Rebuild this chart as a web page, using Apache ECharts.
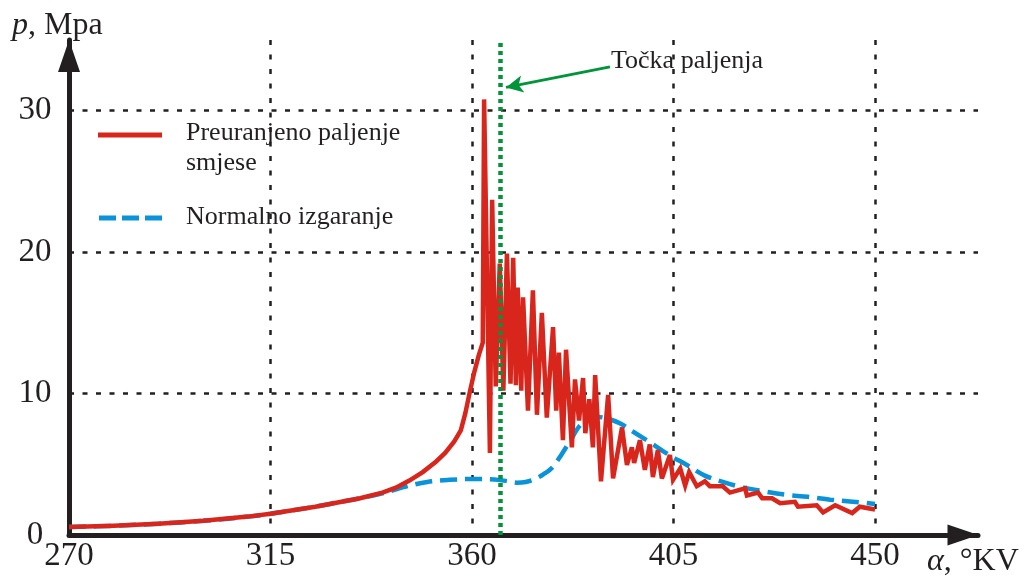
<!DOCTYPE html>
<html>
<head>
<meta charset="utf-8">
<script src="https://cdn.jsdelivr.net/npm/echarts@6/dist/echarts.min.js"></script>
<style>
html,body{margin:0;padding:0;background:#fff;}
#chart{width:1030px;height:581px;}
</style>
</head>
<body>
<div id="chart"></div>
<script>
// ---- data ----
const xTicks = [270, 315, 360, 405, 450];
const yTicks = [0, 10, 20, 30];
const xRange = [270, 473];
const yRange = [0, 35];

const normalX = [270, 280, 290, 300, 310, 315, 320, 325, 330, 335, 340, 345, 350, 355, 360, 365, 368, 370, 372, 374, 376, 378, 380, 382, 384, 386, 388, 390, 393, 396, 400, 404, 408, 412, 416, 420, 425, 430, 435, 440, 445, 450];
const normalY = [0.57, 0.65, 0.8, 1.0, 1.3, 1.5, 1.75, 2.0, 2.3, 2.6, 2.95, 3.4, 3.75, 3.9, 3.96, 3.93, 3.8, 3.7, 3.75, 3.95, 4.3, 4.8, 5.7, 6.7, 7.7, 8.2, 8.35, 8.25, 7.9, 7.3, 6.5, 5.66, 4.95, 4.2, 3.75, 3.4, 3.1, 2.85, 2.7, 2.5, 2.35, 2.2];

const earlyX = [270, 280, 290, 300, 310, 315, 320, 325, 330, 335, 340, 343, 346, 349, 352, 354, 356, 357.5, 358.5, 359.5, 360.5, 361.5, 362.4,
  362.7, 364.0, 364.5, 365.3, 366.2, 367.0, 367.8, 368.6, 369.2, 369.8, 370.2, 371.0, 371.4, 372.5, 373.6, 374.5, 375.6, 376.7, 378.1, 378.8, 379.4, 380.3, 381.0, 382.3, 383.0, 383.9, 384.8, 385.3, 386.2, 387.0, 387.5, 388.8, 390.4, 391.5, 393.5, 394.6, 395.7, 396.2, 397.5, 398.6, 399.7, 400.4, 401.5, 402.4, 404.2, 404.9, 406.5, 407.6, 408.5, 410.2, 412.0, 413.1, 416.0, 417.6, 421.0, 421.4, 423.9, 424.8, 427.0, 428.8, 432.1, 432.8, 437.0, 438.4, 441.1, 444.9, 446.6, 450.0];
const earlyY = [0.57, 0.65, 0.8, 1.0, 1.3, 1.5, 1.75, 2.0, 2.3, 2.6, 3.0, 3.35, 3.85, 4.45, 5.2, 5.8, 6.6, 7.4, 8.6, 10.1, 11.5, 12.7, 13.6,
  30.8, 5.8, 23.7, 10.5, 19.2, 10.2, 19.9, 10.7, 19.6, 10.6, 17.5, 10.2, 16.8, 8.8, 17.3, 8.5, 15.7, 8.3, 14.7, 8.8, 12.9, 6.7, 13.1, 6.2, 11.0, 8.1, 11.1, 7.2, 9.6, 6.2, 11.3, 3.8, 9.9, 4.0, 7.6, 4.95, 6.2, 5.1, 6.7, 4.6, 6.4, 4.1, 6.0, 4.0, 5.66, 3.9, 4.7, 3.5, 4.45, 3.45, 3.8, 3.45, 3.45, 3.0, 3.3, 2.8, 3.0, 2.6, 2.6, 2.25, 2.35, 2.0, 2.1, 1.6, 2.1, 1.55, 2.0, 1.8];

const ignitionAngle = 366.2;
const arrowFrom = [390.8, 33.1];
const arrowTo = [367.6, 31.65];

const seriesNames = ['Preuranjeno paljenje\nsmjese', 'Normalno izgaranje'];
const annotationText = 'Točka paljenja';

// ---- styles ----
const RED = '#d9261c';
const BLUE = '#0a93d8';
const GREEN = '#00953a';
const INK = '#231f20';
const FONT = '"Liberation Serif", "Times New Roman", serif';

const chart = echarts.init(document.getElementById('chart'), null, {renderer: 'canvas'});

const zip = (xs, ys) => xs.map((x, i) => [x, ys[i]]);

const option = {
  backgroundColor: '#ffffff',
  animation: false,
  grid: {left: 69, right: 52, top: 40, bottom: 46, containLabel: false},
  xAxis: {
    type: 'value',
    min: xRange[0], max: xRange[1], interval: 45,
    axisLine: {show: true, lineStyle: {color: INK, width: 5}, symbol: ['none', 'triangle'], symbolSize: [21, 31], symbolOffset: [0, -15]},
    axisTick: {show: false},
    axisLabel: {
      margin: 5, fontFamily: FONT, fontSize: 33, color: INK,
      formatter: v => xTicks.includes(v) ? String(v) : ''
    },
    splitLine: {show: true, showMinLine: false, showMaxLine: false, lineStyle: {color: INK, width: 2.5, type: [5, 9.5]}}
  },
  yAxis: {
    type: 'value',
    min: yRange[0], max: yRange[1], interval: 10,
    axisLine: {show: true, lineStyle: {color: INK, width: 5}, symbol: ['none', 'triangle'], symbolSize: [22, 32], symbolOffset: [0, -16]},
    axisTick: {show: false},
    axisLabel: {
      margin: 34, align: 'center', fontFamily: FONT, fontSize: 33, color: INK,
      formatter: v => yTicks.includes(v) ? String(v) : ''
    },
    splitLine: {show: true, showMinLine: false, showMaxLine: false, lineStyle: {color: INK, width: 2.5, type: [5, 8.5]}}
  },
  series: [
    {
      name: seriesNames[1],
      type: 'line',
      data: zip(normalX, normalY),
      smooth: 0.35,
      showSymbol: false,
      z: 2,
      lineStyle: {color: BLUE, width: 4.5, type: [17, 8]}
    },
    {
      name: seriesNames[0],
      type: 'line',
      data: zip(earlyX, earlyY),
      smooth: false,
      showSymbol: false,
      z: 3,
      lineStyle: {color: RED, width: 4.5, join: 'miter', miterLimit: 4},
      markLine: {
        silent: true,
        z: 6,
        animation: false,
        label: {show: false},
        data: [
          [{xAxis: ignitionAngle, yAxis: yRange[0], symbol: 'none', lineStyle: {color: GREEN, width: 4.5, type: [4, 4]}},
           {xAxis: ignitionAngle, yAxis: yRange[1], symbol: 'none'}],
          [{coord: arrowFrom, symbol: 'none', lineStyle: {color: GREEN, width: 3, type: 'solid'}},
           {coord: arrowTo, symbol: 'arrow', symbolSize: [13, 17]}]
        ]
      }
    }
  ],
  graphic: [
    {type: 'line', shape: {x1: 98, y1: 135, x2: 162, y2: 135}, style: {stroke: RED, lineWidth: 5}},
    {type: 'text', left: 186, top: 118, style: {text: seriesNames[0], font: '26px ' + FONT, fill: INK, lineHeight: 30}},
    {type: 'line', shape: {x1: 99, y1: 218, x2: 162, y2: 218}, style: {stroke: BLUE, lineWidth: 5, lineDash: [17, 6]}},
    {type: 'text', left: 186, top: 204, style: {text: seriesNames[1], font: '26px ' + FONT, fill: INK}},
    {type: 'text', left: 611, top: 48, style: {text: annotationText, font: '26px ' + FONT, fill: INK}},
    {type: 'text', left: 12, top: 10, style: {
      text: '{i|p}, Mpa',
      font: '32px ' + FONT, fill: INK,
      rich: {i: {fontFamily: FONT, fontSize: 32, fontStyle: 'italic', color: INK}}
    }},
    {type: 'text', left: 927, top: 546, style: {
      text: '{i|α}, °KV',
      font: '32px ' + FONT, fill: INK,
      rich: {i: {fontFamily: FONT, fontSize: 32, fontStyle: 'italic', color: INK}}
    }}
  ]
};

chart.setOption(option);
</script>
</body>
</html>
